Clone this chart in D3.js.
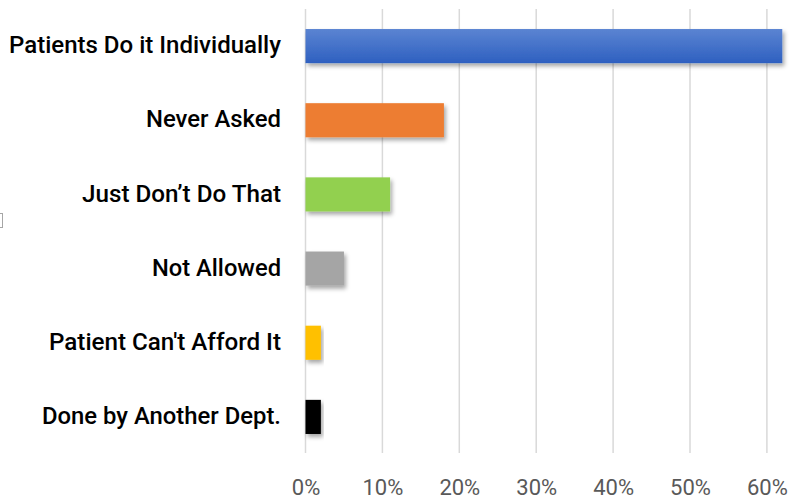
<!DOCTYPE html>
<html>
<head>
<meta charset="utf-8">
<script src="https://cdn.jsdelivr.net/npm/d3@7"></script>
<style>
  html, body { margin: 0; padding: 0; background: #ffffff; }
  svg { display: block; }
</style>
</head>
<body>
<svg id="chart" width="798" height="500"></svg>
<script>
// Survey responses, share of answers (percent)
const categories = [
  "Patients Do it Individually",
  "Never Asked",
  "Just Don\u2019t Do That",
  "Not Allowed",
  "Patient Can't Afford It",
  "Done by Another Dept."
];
const values = [62, 18, 11, 5, 2, 2];
const barColors = ["url(#blueFill)", "#ed7d31", "#92d050", "#a5a5a5", "#ffc000", "#000000"];
const tickValues = [0, 10, 20, 30, 40, 50, 60];
// rendered widths of the category labels
const labelWidths = [272, 135, 199, 129, 232, 239];

const svg = d3.select("#chart");
const defs = svg.append("defs");

const grad = defs.append("linearGradient")
  .attr("id", "blueFill").attr("x1", 0).attr("y1", 0).attr("x2", 0).attr("y2", 1);
grad.append("stop").attr("offset", "0%").attr("stop-color", "#5b84d2");
grad.append("stop").attr("offset", "100%").attr("stop-color", "#2e60c0");

const shadow = defs.append("filter").attr("id", "barShadow")
  .attr("x", "-10%").attr("y", "-30%").attr("width", "130%").attr("height", "180%");
shadow.append("feDropShadow")
  .attr("dx", 2).attr("dy", 3).attr("stdDeviation", 2)
  .attr("flood-color", "#000").attr("flood-opacity", 0.35);

const x = d3.scaleLinear().domain([0, 60]).range([305.5, 766.9]);
const y = d3.scaleBand().domain(categories).range([9, 454])
  .paddingInner(0.54).paddingOuter(0.27);

// vertical gridlines
svg.append("g")
  .selectAll("line")
  .data(tickValues)
  .join("line")
  .attr("x1", d => x(d)).attr("x2", d => x(d))
  .attr("y1", 9).attr("y2", 453)
  .attr("stroke", "#d9d9d9")
  .attr("stroke-width", 1.5);

// bars
svg.append("g")
  .selectAll("rect")
  .data(categories)
  .join("rect")
  .attr("x", x(0))
  .attr("y", d => y(d))
  .attr("width", (d, i) => x(values[i]) - x(0))
  .attr("height", y.bandwidth())
  .attr("fill", (d, i) => barColors[i])
  .attr("filter", "url(#barShadow)");

// category labels
svg.append("g")
  .selectAll("text")
  .data(categories)
  .join("text")
  .attr("x", 281)
  .attr("y", d => y(d) + y.bandwidth() / 2)
  .attr("dy", "0.3em")
  .attr("text-anchor", "end")
  .attr("font-family", "Roboto, 'Noto Sans', sans-serif")
  .attr("font-weight", 500)
  .attr("font-size", 24)
  .attr("fill", "#000")
  .attr("textLength", (d, i) => labelWidths[i])
  .attr("lengthAdjust", "spacingAndGlyphs")
  .text(d => d);

// x axis tick labels
const xAxis = d3.axisBottom(x)
  .tickValues(tickValues)
  .tickFormat(d => d + "%")
  .tickSize(0)
  .tickPadding(0);
const axisG = svg.append("g")
  .attr("transform", "translate(0,479)")
  .call(xAxis);
axisG.select(".domain").remove();
axisG.selectAll("text")
  .attr("dy", null)
  .attr("y", 16)
  .attr("font-family", "Roboto, 'Noto Sans', sans-serif")
  .attr("font-size", 22)
  .attr("fill", "#595959");

// clipped legend marker at the left edge
svg.append("rect")
  .attr("x", -6).attr("y", 213.5)
  .attr("width", 8.5).attr("height", 14)
  .attr("fill", "#fff")
  .attr("stroke", "#a6a6a6")
  .attr("stroke-width", 1);
</script>
</body>
</html>
